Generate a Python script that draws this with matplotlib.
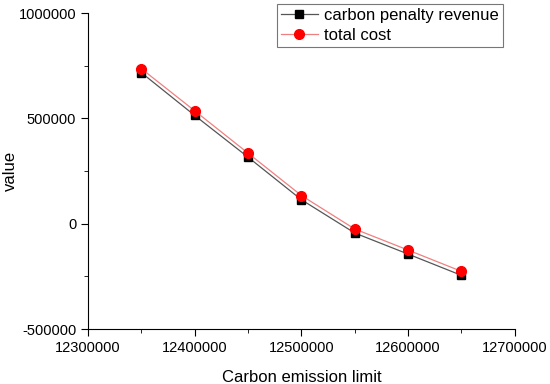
import numpy as np
import matplotlib.pyplot as plt
from matplotlib.ticker import MultipleLocator, FormatStrFormatter

plt.rcParams['font.family'] = ['Liberation Sans', 'DejaVu Sans']

limit = [12350000, 12400000, 12450000, 12500000, 12550000, 12600000, 12650000]
penalty = [717000, 514000, 316000, 114000, -44000, -144000, -245000]
total = [736000, 536000, 335000, 134000, -25000, -125000, -226000]

fig = plt.figure(figsize=(5.5, 3.84), dpi=100)
ax = fig.add_axes([0.16, 0.143, 0.776, 0.823])

ax.plot(limit, penalty, color='#555555', lw=0.9, marker='s', ms=6,
        mfc='black', mec='black', label='carbon penalty revenue')
ax.plot(limit, total, color='#f08080', lw=0.9, marker='o', ms=7,
        mfc='red', mec='red', label='total cost')

ax.set_xlim(12300000, 12700000)
ax.set_ylim(-500000, 1000000)
ax.xaxis.set_major_locator(MultipleLocator(100000))
ax.xaxis.set_minor_locator(MultipleLocator(50000))
ax.yaxis.set_major_locator(MultipleLocator(500000))
ax.yaxis.set_minor_locator(MultipleLocator(250000))
ax.xaxis.set_major_formatter(FormatStrFormatter('%d'))
ax.yaxis.set_major_formatter(FormatStrFormatter('%d'))

for s in ['top', 'right']:
    ax.spines[s].set_visible(False)
ax.tick_params(which='major', direction='out', length=5, labelsize=10.5)
ax.tick_params(which='minor', direction='out', length=3)

ax.set_xlabel('Carbon emission limit', fontsize=12)
ax.set_ylabel('value', fontsize=12)
ax.yaxis.set_label_coords(-0.165, 0.5)
ax.xaxis.set_label_coords(0.5, -0.13)

leg = ax.legend(loc='upper right', bbox_to_anchor=(0.915, 0.99),
                bbox_transform=fig.transFigure, fontsize=12, frameon=True,
                fancybox=False, edgecolor='#555555', borderpad=0.25,
                borderaxespad=0, labelspacing=0.3, handlelength=2.2,
                handletextpad=0.4)
leg.get_frame().set_linewidth(0.8)

plt.savefig('out.png')
